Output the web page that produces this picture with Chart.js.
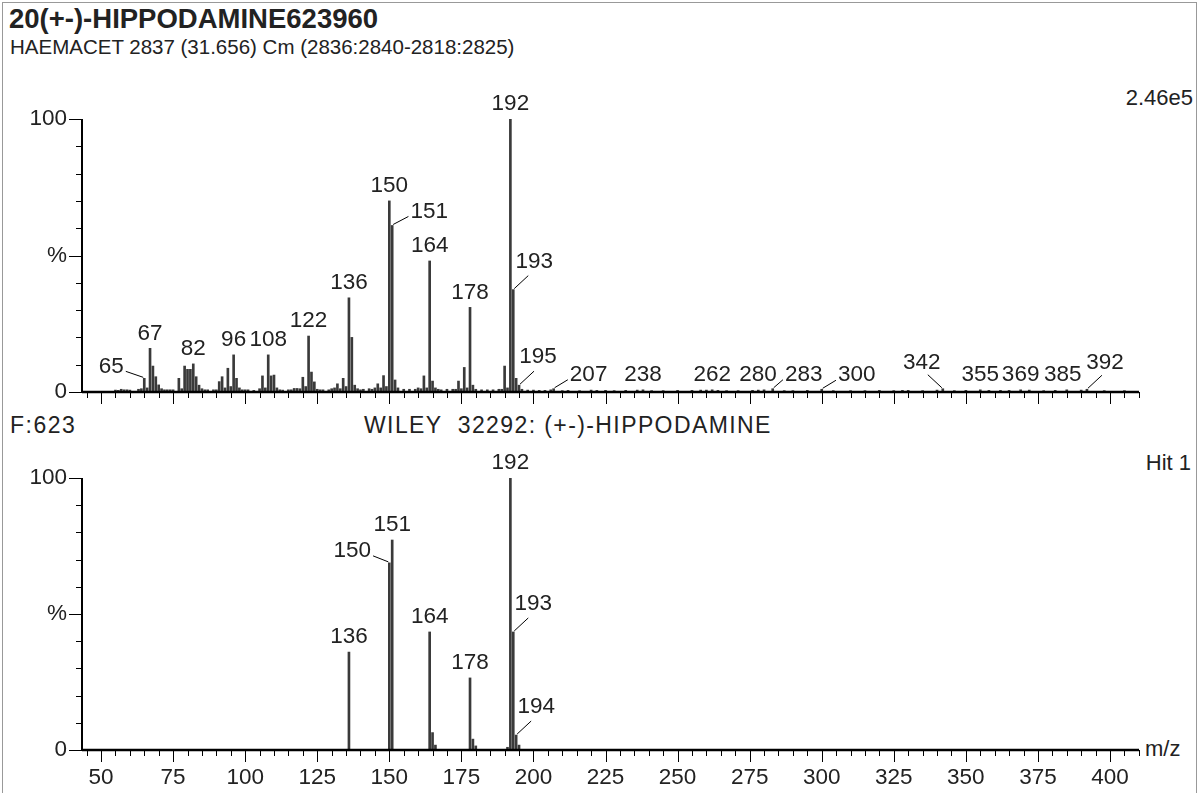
<!DOCTYPE html>
<html>
<head>
<meta charset="utf-8">
<script src="https://cdn.jsdelivr.net/npm/chart.js@4.4.1/dist/chart.umd.min.js"></script>
<style>
  body { margin: 0; background: #fff; width: 1197px; height: 793px; overflow: hidden;
         font-family: "Liberation Sans", Arial, sans-serif; }
  canvas { position: absolute; left: 0; top: 0; }
  .t { position: absolute; white-space: pre; color: #222; font-size: 21px; line-height: 21px; }
  .frame { position: absolute; left: 2px; top: 2px; width: 1193px; height: 800px;
           border-top: 1px solid #999; border-left: 1px solid #999; border-right: 1px solid #999; }
</style>
</head>
<body>
<div class="frame"></div>
<div class="t" style="left:9px;top:5px;font-weight:bold;font-size:27.5px;line-height:27px;">20(+-)-HIPPODAMINE623960</div>
<div class="t" style="left:10px;top:36px;font-size:20.5px;">HAEMACET 2837 (31.656) Cm (2836:2840-2818:2825)</div>
<div class="t" style="right:4px;top:87px;font-size:22px;">2.46e5</div>
<div class="t" style="left:10px;top:415px;font-size:23px;letter-spacing:1.5px;">F:623</div>
<div class="t" style="left:364px;top:415px;font-size:23px;letter-spacing:1.4px;">WILEY  32292: (+-)-HIPPODAMINE</div>
<div class="t" style="right:6px;top:452px;font-size:22px;">Hit 1</div>
<div class="t" style="left:1145px;top:738px;font-size:22px;">m/z</div>
<canvas id="topSpec" width="1197" height="793"></canvas>
<canvas id="libSpec" width="1197" height="793"></canvas>
<script>
// measured spectrum (m/z, % of base peak)
const topMz = [55,56,57,58,59,60,63,64,65,66,67,68,69,70,71,72,73,74,75,77,78,79,80,81,82,83,84,85,86,87,89,90,
  91,92,93,94,95,96,97,98,99,100,101,103,105,106,107,108,109,110,111,112,113,115,116,117,118,119,120,121,122,123,124,
  125,126,127,129,130,131,132,133,134,135,136,137,138,139,140,141,143,144,145,146,147,148,149,150,151,152,153,155,157,
  159,160,161,162,163,164,165,166,167,168,170,172,173,174,175,176,177,178,179,180,182,184,186,188,189,190,191,192,193,
  194,195,196,198,200,202,204,206,207,210,212,216,220,222,225,228,232,236,238,241,245,250,255,258,260,262,264,267,271,
  276,278,280,283,287,290,295,300,304,310,315,320,325,328,330,335,340,342,346,350,355,358,362,365,369,372,377,381,385,
  390,392,398,405];
const topPct = [0.7,0.6,1.0,0.8,0.8,0.7,1.0,1.2,5,1.5,16,9.5,5.6,2.6,1.2,0.8,0.8,0.8,0.8,5,1.2,9.5,8.3,8.3,10.3,5.6,2.5,1.2,0.8,0.8,0.8,0.8,
  3.8,5.6,1.5,8.7,2,13.6,5,1.5,0.8,0.8,0.8,0.6,1.2,5.9,1.5,13.6,5.9,6.2,1.5,0.8,0.7,0.8,0.8,1.3,1.3,1.2,5.4,2,20.5,7.3,3.7,
  1,0.8,0.8,0.8,1.2,1.5,3,1.2,5,2,34.5,20,2.5,1.2,0.8,1,1.2,1,1.5,3,1.5,6,2,70,61,4.4,1.5,1,1,
  1,1.5,1.2,5.9,1.5,48,4,1.5,1,0.8,1,1,1,4,1.2,9,1.5,31,2.5,1,0.8,0.8,0.8,1,1,9.5,1.5,100,37.5,
  5,2.5,1,0.7,0.7,0.6,0.6,0.8,1.2,0.5,0.6,0.5,0.7,0.6,0.6,0.5,0.6,0.7,0.8,0.5,0.5,0.6,0.6,0.7,0.7,0.8,0.6,0.5,0.5,
  0.6,0.7,0.8,1.2,0.5,0.5,0.6,1,0.5,0.5,0.5,0.6,0.5,0.6,0.6,0.5,0.7,1.2,0.5,0.6,0.8,0.6,0.6,0.6,0.8,0.7,0.5,0.6,0.8,
  0.7,1,0.5,0.5];
const topLabels = [65,67,82,96,108,122,136,150,151,164,178,192,193,195,207,238,262,280,283,300,342,355,369,385,392];

// library spectrum (WILEY 32292)
const libMz  = [136,150,151,164,165,166,178,179,180,191,192,193,194,195];
const libPct = [36,68.8,77.2,43.4,6.4,1.8,26.5,4,1.5,1,100,43.4,5.5,1.8];
const libLabels = [136,150,151,164,178,192,193,194];

const xMajor = [50,75,100,125,150,175,200,225,250,275,300,325,350,375,400];
const xMinorStep = 5;
const yMinorStep = 10;

// label offsets in px [dx, dy] from the default spot above the peak, for crowded peaks
const topNudge = {65:[-33,3], 151:[37,1], 193:[21,-13], 195:[19,-13], 207:[35,1], 280:[-6,0],
  283:[31,1], 300:[35,1], 342:[-21,-11], 385:[-4,0], 392:[18,-11]};
const libNudge = {150:[-37,3], 193:[20,-13], 194:[20,-13]};

const FONT = '22.5px "Liberation Sans", Arial, sans-serif';

const specPlugin = {
  id: 'spec',
  afterDatasetsDraw(chart, args, opts) {
    const ctx = chart.ctx, xs = chart.scales.x, ys = chart.scales.y, a = chart.chartArea;
    const y0 = ys.getPixelForValue(0);
    ctx.save();
    ctx.strokeStyle = '#000';
    ctx.fillStyle = '#222';
    // axes
    ctx.lineWidth = 2;
    ctx.beginPath();
    ctx.moveTo(a.left, ys.getPixelForValue(100));
    ctx.lineTo(a.left, y0 + 1);
    ctx.stroke();
    ctx.lineWidth = 2.5;
    ctx.beginPath();
    ctx.moveTo(a.left, y0);
    ctx.lineTo(a.right, y0);
    ctx.stroke();
    // x ticks
    ctx.lineWidth = 1;
    for (let v = 45; v <= 410; v += xMinorStep) {
      const x = Math.round(xs.getPixelForValue(v)) + 0.5;
      const len = xMajor.includes(v) ? 12 : 6;
      ctx.beginPath(); ctx.moveTo(x, y0); ctx.lineTo(x, y0 + len); ctx.stroke();
    }
    // y ticks
    for (let v = 0; v <= 100; v += yMinorStep) {
      const y = Math.round(ys.getPixelForValue(v)) + 0.5;
      const len = (v % 50 === 0) ? 13 : 6;
      ctx.beginPath(); ctx.moveTo(a.left - len, y); ctx.lineTo(a.left, y); ctx.stroke();
    }
    ctx.font = FONT;
    ctx.textBaseline = 'middle';
    ctx.textAlign = 'right';
    ctx.fillText('100', a.left - 15, ys.getPixelForValue(100));
    ctx.fillText('%', a.left - 15, ys.getPixelForValue(50));
    ctx.fillText('0', a.left - 15, y0);
    if (opts.xLabels) {
      ctx.textAlign = 'center';
      xMajor.forEach(v => ctx.fillText(String(v), xs.getPixelForValue(v), y0 + 28));
    }
    // peak labels
    const mz = opts.mz, pct = opts.pct;
    ctx.lineWidth = 1;
    opts.labels.forEach(m => {
      const i = mz.indexOf(m);
      const px = xs.getPixelForValue(m), top = ys.getPixelForValue(pct[i]);
      const n = opts.nudge[m] || [0, 0];
      const cx = px + n[0], cy = top - 15 + n[1];
      ctx.textAlign = 'center';
      ctx.fillText(String(m), cx, cy);
      if (Math.abs(n[0]) > 10) {
        const s = Math.sign(n[0]);
        const w = ctx.measureText(String(m)).width;
        let ex, ey;
        if (n[1] < -5) { ex = px + s * 15; ey = top - 14; }
        else { ex = cx - s * (w / 2 + 2); ey = cy + 5; }
        ctx.beginPath(); ctx.moveTo(px + s, top - 1); ctx.lineTo(ex, ey); ctx.stroke();
      }
    });
    ctx.restore();
  }
};

function spectrum(id, mz, pct, pad, extra) {
  return new Chart(document.getElementById(id), {
    type: 'bar',
    data: { datasets: [{ data: mz.map((m, i) => ({ x: m, y: pct[i] })),
      backgroundColor: '#3a3a3a', barThickness: 2, grouped: false }] },
    options: {
      responsive: false, animation: false,
      layout: { padding: pad },
      plugins: { legend: { display: false }, tooltip: { enabled: false },
        spec: Object.assign({ mz: mz, pct: pct }, extra) },
      scales: {
        x: { type: 'linear', min: 43.4, max: 410.06, offset: false, display: false },
        y: { min: 0, max: 100, display: false }
      }
    },
    plugins: [specPlugin]
  });
}

spectrum('topSpec', topMz, topPct, { left: 82, right: 58, top: 119, bottom: 401 },
  { labels: topLabels, nudge: topNudge, xLabels: false });
spectrum('libSpec', libMz, libPct, { left: 82, right: 58, top: 478, bottom: 43 },
  { labels: libLabels, nudge: libNudge, xLabels: true });
</script>
</body>
</html>
